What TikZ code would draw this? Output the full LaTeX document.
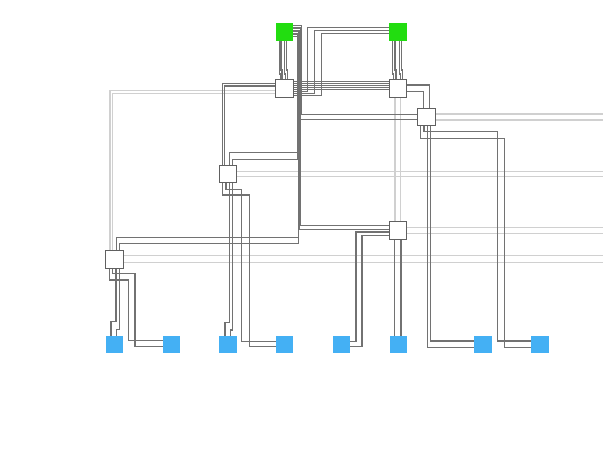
\documentclass[tikz,border=0pt]{standalone}
\usetikzlibrary{calc}
\definecolor{grn}{HTML}{22DD10}
\definecolor{blu}{HTML}{44B0F4}
\definecolor{boxc}{HTML}{606060}
\definecolor{dkc}{HTML}{727272}
\definecolor{ltc}{HTML}{D0D0D0}
\pgfdeclarelayer{bg}
\pgfsetlayers{bg,main}
\begin{document}
\begin{tikzpicture}[x=1pt,y=-1pt,
  box/.style={draw=boxc,fill=white,line width=0.9pt,minimum size=17.5pt,inner sep=0pt,outer sep=0pt},
  gbox/.style={fill=grn,draw=none,minimum size=17.5pt,inner sep=0pt,outer sep=0pt},
  bbox/.style={fill=blu,draw=none,minimum size=17.5pt,inner sep=0pt,outer sep=0pt},
  dk/.style={draw=dkc,line width=1.25pt},
  dkb/.style={draw=dkc,line width=0.9pt},
  lt/.style={draw=ltc,line width=1.1pt}]
\path[use as bounding box] (0,0) rectangle (603,457);

\node[gbox] (G1) at (284.5,32) {};
\node[gbox] (G2) at (398,32) {};
\node[box] (W1) at (284.5,88.7) {};
\node[box] (W2) at (398,88.7) {};
\node[box] (W3) at (426.5,117) {};
\node[box] (W4) at (228,174) {};
\node[box] (W5) at (398,230.5) {};
\node[box] (W6) at (114.3,259.5) {};
\node[bbox] (B1) at (114.5,344.7) {};
\node[bbox] (B2) at (171.3,344.7) {};
\node[bbox] (B3) at (228,344.7) {};
\node[bbox] (B4) at (284.7,344.7) {};
\node[bbox] (B5) at (341.3,344.7) {};
\node[bbox] (B6) at (398.3,344.7) {};
\node[bbox] (B7) at (483.2,344.7) {};
\node[bbox] (B8) at (540,344.7) {};

\coordinate (e3a) at (603,114);
\coordinate (e3b) at (603,120);
\coordinate (e4a) at (603,171.7);
\coordinate (e4b) at (603,176.7);
\coordinate (e5a) at (603,227.7);
\coordinate (e5b) at (603,233.3);
\coordinate (e6a) at (603,255.7);
\coordinate (e6b) at (603,262.3);

\begin{pgfonlayer}{bg}
% light lines
\draw[lt] ($(W1.west)+(0,2)$) -| ($(W6.north)+(-4.3,0)$);
\draw[lt] ($(W1.west)+(0,4.6)$) -| ($(W6.north)+(-1.5,0)$);
\draw[lt] ($(W2.south)+(-3,0)$) -- ($(W5.north)+(-3,0)$);
\draw[lt] ($(W2.south)+(2.7,0)$) -- ($(W5.north)+(2.7,0)$);
\draw[lt] ($(W3.east)+(0,-3)$) -- (e3a);
\draw[lt] ($(W3.east)+(0,3)$) -- (e3b);
\draw[lt] ($(W4.east)+(0,-2.3)$) -- (e4a);
\draw[lt] ($(W4.east)+(0,2.7)$) -- (e4b);
\draw[lt] ($(W5.east)+(0,-2.8)$) -- (e5a);
\draw[lt] ($(W5.east)+(0,2.8)$) -- (e5b);
\draw[lt] ($(W6.east)+(0,-3.8)$) -- (e6a);
\draw[lt] ($(W6.east)+(0,2.8)$) -- (e6b);

% G1 -> W1
\draw[dk] ($(G1.south)+(-5.2,0)$) |- (280.3,74) -- ($(W1.north)+(-4.2,0)$);
\draw[dk] ($(G1.south)+(-3.5,0)$) |- (282,70) -- ($(W1.north)+(-2.5,0)$);
\draw[dk] ($(G1.south)+(0.2,0)$) |- (285.7,74) -- ($(W1.north)+(1.2,0)$);
\draw[dk] ($(G1.south)+(1.9,0)$) |- (287.4,70) -- ($(W1.north)+(2.9,0)$);
% G2 -> W2
\draw[dk] ($(G2.south)+(-5.3,0)$) |- (393.7,74) -- ($(W2.north)+(-4.3,0)$);
\draw[dk] ($(G2.south)+(-3,0)$) |- (396,70) -- ($(W2.north)+(-2,0)$);
\draw[dk] ($(G2.south)+(1.3,0)$) |- (400.3,74) -- ($(W2.north)+(2.3,0)$);
\draw[dk] ($(G2.south)+(3.7,0)$) |- (402.7,70) -- ($(W2.north)+(4.7,0)$);

% G1 bundle
\draw[dkb] ($(G1.east)+(0,-6.5)$) -| (301.2,114.3) -- ($(W3.west)+(0,-2.7)$);
\draw[dkb] ($(G1.east)+(0,-5)$) -| (300.6,119.3) -- ($(W3.west)+(0,2.3)$);
\draw[dkb] ($(G1.east)+(0,-3.5)$) -| (300,225.5) -- ($(W5.west)+(0,-5)$);
\draw[dkb] ($(G1.east)+(0,-2)$) -| (299.4,229) -- ($(W5.west)+(0,-1.5)$);
\draw[dkb] ($(G1.east)+(0,-0.5)$) -| (298.8,243.5) -| ($(W6.north)+(5,0)$);
\draw[dkb] ($(G1.east)+(0,1)$) -| (298.2,237.3) -| ($(W6.north)+(1.7,0)$);
\draw[dkb] ($(G1.east)+(0,2.5)$) -| (297.6,159.3) -| ($(W4.north)+(4.7,0)$);
\draw[dkb] ($(G1.east)+(0,4)$) -| (297,152.7) -| ($(W4.north)+(1.3,0)$);

% G2 -> W1
\draw[dkb] ($(G2.west)+(0,-4.7)$) -| (307.7,91.7) -- ($(W1.east)+(0,3)$);
\draw[dkb] ($(G2.west)+(0,-2)$) -| (314.3,93.7) -- ($(W1.east)+(0,5)$);
\draw[dkb] ($(G2.west)+(0,1.3)$) -| (321.7,95.7) -- ($(W1.east)+(0,7)$);

% W1 -> W2 bundle
\foreach \d in {-7,-5,-3,-1,1}
  \draw[dkb] ($(W1.east)+(0,\d)$) -- ($(W2.west)+(0,\d)$);

% W1 -> W4
\draw[dk] ($(W1.west)+(0,-5.4)$) -| ($(W4.north)+(-5.3,0)$);
\draw[dk] ($(W1.west)+(0,-2.7)$) -| ($(W4.north)+(-3.3,0)$);

% W4 -> B4, B3
\draw[dk] ($(W4.south)+(-5.3,0)$) |- (249.3,195) |- ($(B4.west)+(0,2)$);
\draw[dk] ($(W4.south)+(-2,0)$) |- (241.7,189.3) |- ($(B4.west)+(0,-3)$);
\draw[dk] ($(W4.south)+(1.3,0)$) |- (225,322.3) -- ($(B3.north)+(-3,0)$);
\draw[dk] ($(W4.south)+(4.7,0)$) |- (230.7,330) -- ($(B3.north)+(2.7,0)$);

% W2 -> W3
\draw[dk] ($(W2.east)+(0,-3.7)$) -| ($(W3.north)+(2.8,0)$);
\draw[dk] ($(W2.east)+(0,3)$) -| ($(W3.north)+(-3.2,0)$);

% W3 -> B8, B7
\draw[dk] ($(W3.south)+(-5.8,0)$) |- (504.3,138.3) |- ($(B8.west)+(0,2.6)$);
\draw[dk] ($(W3.south)+(-2.5,0)$) |- (497.3,131.7) |- ($(B8.west)+(0,-3.7)$);
\draw[dk] ($(W3.south)+(0.8,0)$) |- ($(B7.west)+(0,2.6)$);
\draw[dk] ($(W3.south)+(4.2,0)$) |- ($(B7.west)+(0,-3.7)$);

% W5 -> B5, B6
\draw[dk] ($(W5.west)+(0,1.5)$) -| (356,341.7) -- ($(B5.east)+(0,-3)$);
\draw[dk] ($(W5.west)+(0,5.2)$) -| (362,346.7) -- ($(B5.east)+(0,2)$);
\draw[dk] ($(W5.south)+(-3.7,0)$) -- ($(B6.north)+(-4,0)$);
\draw[dk] ($(W5.south)+(3,0)$) -- ($(B6.north)+(2.7,0)$);

% W6 -> B1, B2
\draw[dk] ($(W6.south)+(1.7,0)$) |- (111,321.7) -- ($(B1.north)+(-3.5,0)$);
\draw[dk] ($(W6.south)+(5,0)$) |- (116.7,329.3) -- ($(B1.north)+(2.2,0)$);
\draw[dk] ($(W6.south)+(-5,0)$) |- (128.3,280) |- ($(B2.west)+(0,-4)$);
\draw[dk] ($(W6.south)+(-1.6,0)$) |- (135,273.3) |- ($(B2.west)+(0,2)$);
\end{pgfonlayer}
\end{tikzpicture}
\end{document}
